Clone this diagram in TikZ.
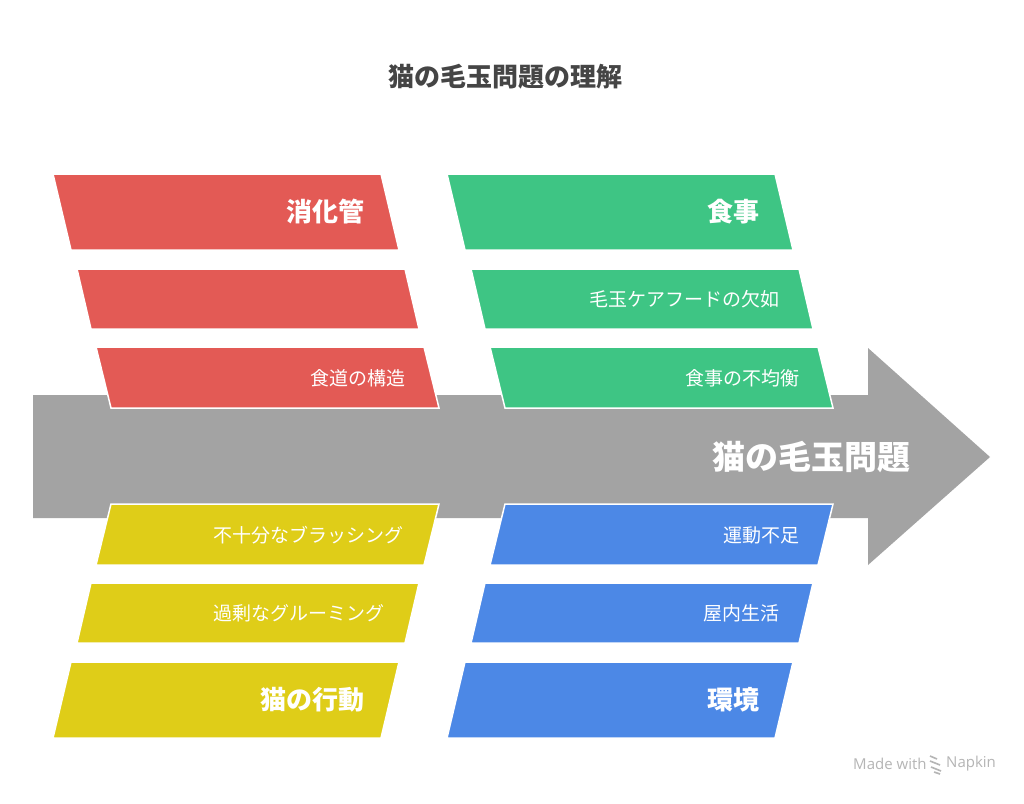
\documentclass[tikz,border=0pt]{standalone}
\usepackage{fontspec}
\usepackage{xcolor}
\setmainfont{Noto Sans CJK JP}
\newfontfamily\latinfont{Open Sans}
\definecolor{boxred}{HTML}{E35A55}
\definecolor{boxgreen}{HTML}{3EC584}
\definecolor{boxyellow}{HTML}{DFCD18}
\definecolor{boxblue}{HTML}{4C88E6}
\definecolor{spine}{HTML}{A3A3A3}
\definecolor{titlegray}{HTML}{454545}
\definecolor{markgray}{HTML}{B5B5B5}
\newcommand{\HeadSize}{\fontsize{26}{30}\selectfont\bfseries}
\newcommand{\ItemSize}{\fontsize{19}{23}\selectfont}
\tikzset{
  slantbox/.style={draw=white, line width=1.5pt},
  headtext/.style={text=white, anchor=east, inner sep=0pt, font=\HeadSize},
  itemtext/.style={text=white, anchor=east, inner sep=0pt, font=\ItemSize}
}

\begin{document}
\begin{tikzpicture}[x=1pt, y=-1pt]
    \useasboundingbox[fill=white] (0,0) rectangle (1024,803);

    % title
    \node[text=titlegray, font=\fontsize{26}{30}\selectfont\bfseries] (title) at (505,77) {猫の毛玉問題の理解};

    % spine arrow
    \fill[spine] (33,395) -- (868,395) -- (868,348) -- (990,457)
        -- (868,565) -- (868,518) -- (33,518) -- cycle;
    \node[anchor=east, inner sep=0pt, text=white, font=\fontsize{33}{38}\selectfont\bfseries] (problem) at (911,457) {猫の毛玉問題};

    % upper left
    \fill[boxred, slantbox] (53,174) -- (381,174) -- (399,250) -- (71,250) -- cycle;
    \fill[boxred, slantbox] (77,269) -- (405,269) -- (419,329) -- (91,329) -- cycle;
    \fill[boxred, slantbox] (96,347) -- (424,347) -- (439,408) -- (111,408) -- cycle;
    \node[headtext] (gut) at (365,212) {消化管};
    \node[itemtext] (esophagus) at (406,378) {食道の構造};

    % upper right
    \fill[boxgreen, slantbox] (447,174) -- (775,174) -- (793,250) -- (465,250) -- cycle;
    \fill[boxgreen, slantbox] (471,269) -- (799,269) -- (813,329) -- (485,329) -- cycle;
    \fill[boxgreen, slantbox] (490,347) -- (818,347) -- (833,408) -- (505,408) -- cycle;
    \node[headtext] (diet) at (760,212) {食事};
    \node[itemtext] (carefood) at (780,299) {毛玉ケアフードの欠如};
    \node[itemtext] (imbalance) at (800,378) {食事の不均衡};

    % lower left
    \fill[boxyellow, slantbox] (111,504) -- (439,504) -- (424,565) -- (96,565) -- cycle;
    \fill[boxyellow, slantbox] (91,583) -- (419,583) -- (405,643) -- (77,643) -- cycle;
    \fill[boxyellow, slantbox] (71,662) -- (399,662) -- (381,738) -- (53,738) -- cycle;
    \node[itemtext] (brushing) at (404,535) {不十分なブラッシング};
    \node[itemtext] (grooming) at (385,613) {過剰なグルーミング};
    \node[headtext] (behavior) at (365,700) {猫の行動};

    % lower right
    \fill[boxblue, slantbox] (505,504) -- (833,504) -- (818,565) -- (490,565) -- cycle;
    \fill[boxblue, slantbox] (485,583) -- (813,583) -- (799,643) -- (471,643) -- cycle;
    \fill[boxblue, slantbox] (465,662) -- (793,662) -- (775,738) -- (447,738) -- cycle;
    \node[itemtext] (exercise) at (800,535) {運動不足};
    \node[itemtext] (indoor) at (780,613) {屋内生活};
    \node[headtext] (environment) at (760,700) {環境};

    % watermark
    \node[anchor=west, inner sep=0pt, text=markgray, font=\latinfont\fontsize{15}{17}\selectfont] (madewith) at (853,764) {Made with};
    \draw[markgray, line width=1.6pt] (930,756) -- (937,759) (930,761) -- (940,765)
        (931,767) -- (941,771) (934,772) -- (940,774);
    \node[anchor=west, inner sep=0pt, text=markgray, font=\latinfont\fontsize{15}{17}\selectfont] (napkin) at (946,764) {Napkin};
\end{tikzpicture}
\end{document}
